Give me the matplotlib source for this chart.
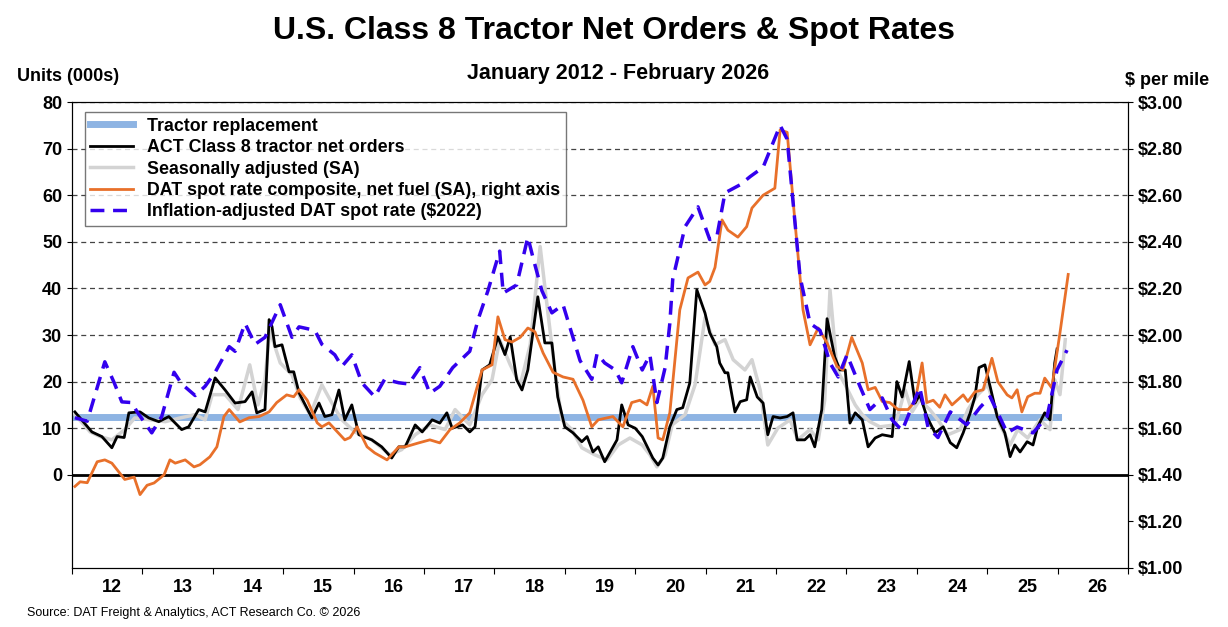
import matplotlib
matplotlib.use("Agg")
import matplotlib.pyplot as plt
import numpy as np

plt.rcParams["font.family"] = ["Liberation Sans", "DejaVu Sans"]

# months since Jan 2012
net_m = [0.5, 3.4, 5.1, 6.8, 7.7, 8.9, 9.7, 11.6, 13.1, 14.8, 16.5, 18.7, 19.9, 21.6, 22.7, 24.4, 26.1, 27.8,
         29.5, 30.7, 31.5, 32.9, 33.6, 34.1, 34.6, 35.8, 37.0, 37.8, 38.7, 40.9, 42.1, 43.1, 44.3, 45.5, 46.5,
         47.7, 48.9, 51.1, 52.8, 54.5, 55.7, 56.8, 58.5, 59.7, 61.4, 62.7, 63.9, 64.8, 66.6, 67.8, 68.7, 69.9,
         71.2, 72.6, 73.8, 74.7, 75.8, 76.7, 77.7, 79.4, 80.6, 81.8, 82.8, 84.0, 85.4, 86.9, 87.8, 88.8, 89.7,
         90.8, 92.9, 93.7, 94.8, 96.0, 97.2, 99.0, 99.9, 100.7, 101.9, 103.1, 104.1, 105.3, 106.5, 107.9, 108.7,
         109.9, 110.4, 111.3, 111.8, 113.0, 113.9, 115.0, 115.6, 116.8, 117.8, 118.6, 119.5, 120.7, 121.9, 122.9,
         123.6, 124.9, 125.8, 126.6, 127.8, 128.7, 130.0, 130.9, 131.8, 132.6, 133.5, 134.7, 135.7, 136.9, 138.1,
         139.8, 140.6, 141.5, 142.7, 143.7, 144.5, 145.7, 147.1, 148.5, 149.7, 150.8, 151.9, 153.1, 153.9, 154.6,
         155.6, 156.5, 157.7, 159.0, 159.9, 160.7, 161.6, 162.8, 163.8, 164.6, 165.8, 166.7, 167.5, 167.9]
net_v = [13.5, 9.2, 8.2, 5.8, 8.2, 8, 13.3, 13.5, 12.2, 11.4, 12.5, 9.7, 10.3, 14, 13.5, 20.8, 18.2, 15.4,
         15.7, 17.8, 13.3, 14, 33.3, 31.8, 27.5, 27.9, 22.1, 22.1, 17.6, 12.2, 15.4, 12.5, 12.9, 18.2, 11.8,
         15, 8.6, 7.5, 6, 3.6, 6, 6, 10.7, 9.2, 11.8, 11.1, 13.3, 10, 10.7, 9.2, 10.3, 22.5,
         23.6, 29.6, 25.8, 29.6, 20.4, 18.2, 22.5, 38.2, 28.3, 28.3, 16.7, 10.3, 9, 7.1, 8.2, 4.9, 6,
         2.8, 7.5, 15, 10.7, 10, 8.2, 3.6, 2.1, 3.6, 10.3, 14, 14.4, 19.7, 39.7, 34.7, 30.5,
         27.5, 24, 21.9, 21.9, 13.5, 15.7, 16.1, 21, 16.7, 15.4, 8.6, 12.5, 12.2, 12.5, 13.3,
         7.5, 7.5, 8.6, 6, 14, 33.5, 25.3, 22.5, 22.5, 11.1, 13.3, 11.8, 6, 7.9, 8.6,
         8.2, 20, 16.7, 24.3, 15.4, 17.2, 12.5, 9, 10.3, 6.9, 5.8, 9, 13.3, 16.7, 23,
         23.6, 18.9, 12.5, 9, 3.9, 6.4, 4.9, 7.1, 6.4, 10.3, 13.3, 11.8, 24, 27]

sa_m = [0.5, 3.1, 4.8, 6.8, 9.0, 10.7, 13.3, 15.9, 18.4, 21.0, 22.7, 23.9, 26.1, 28.3, 30.3, 31.7, 32.9, 33.7,
        35.5, 37.5, 38.9, 40.6, 42.6, 44.3, 46.0, 48.2, 51.1, 54.2, 56.2, 58.5, 61.0, 63.6, 65.3, 67.8, 69.9,
        71.6, 72.9, 74.7, 76.4, 78.1, 79.8, 81.1, 82.3, 83.5, 85.2, 86.9, 89.1, 91.2, 93.1, 95.1, 97.2, 98.5,
        99.7, 101.1, 102.3, 104.5, 106.2, 107.9, 109.6, 111.3, 112.7, 114.7, 115.9, 117.3, 118.6, 120.3, 122.4,
        123.7, 125.8, 127.2, 128.3, 129.2, 130.4, 131.8, 133.5, 134.7, 136.0, 137.7, 140.3, 142.0, 143.2, 144.5,
        146.2, 147.6, 149.3, 151.4, 152.7, 154.4, 156.1, 158.2, 159.9, 161.2, 162.9, 165.0, 166.7, 167.5, 168.4, 169.3]
sa_v = [12.9, 9.2, 8.2, 7.5, 9.7, 12.2, 11.8, 11.4, 12.2, 12.9, 11.8, 17.2, 17.2, 14, 23.6, 15, 20.4, 31,
        24, 21.5, 16.5, 12.9, 19.3, 15.4, 11.8, 9.2, 7.5, 4.3, 5.4, 8.6, 10.7, 9.7, 14, 10.7, 17.2,
        20.4, 29, 23.6, 19.3, 27.9, 49, 35, 22.5, 11.8, 9.7, 5.8, 4.3, 3.2, 6.4, 7.9, 6.4, 4.3,
        1.7, 4.3, 10.7, 12.9, 19.3, 33.7, 27.9, 29, 24.7, 22.5, 24.7, 18.2, 6.4, 10, 11.8,
        7.5, 9.7, 7.5, 16, 39.7, 22.5, 19.3, 15, 12.9, 11.4, 10.3, 10.7, 18.2, 13.5, 16.1,
        14, 11.8, 8.6, 9.7, 14, 17.2, 19.3, 10.7, 6.4, 9.7, 7.9, 11.8, 9.7, 20.4, 17.2, 29]

dat_m = [0.5, 1.4, 2.6, 4.3, 5.6, 6.8, 9.0, 10.6, 11.6, 12.8, 14.0, 15.7, 16.7, 17.6, 19.3, 20.8, 21.8, 23.5,
         24.7, 25.9, 26.8, 28.6, 30.2, 31.9, 33.6, 34.9, 36.6, 37.8, 38.7, 40.1, 41.8, 42.6, 43.8, 46.5, 47.4,
         48.6, 50.3, 51.6, 53.7, 55.7, 56.8, 59.1, 61.0, 62.7, 64.4, 66.1, 67.8, 69.9, 71.6, 72.6, 73.8, 75.0,
         76.4, 77.7, 78.9, 80.3, 82.0, 83.7, 85.4, 87.1, 88.6, 89.7, 92.2, 93.9, 95.4, 96.8, 98.0, 99.0, 99.9,
         100.7, 101.9, 103.6, 105.0, 106.7, 107.9, 108.7, 109.6, 110.8, 111.8, 113.5, 115.0, 115.9, 117.8,
         119.8, 120.7, 121.9, 123.2, 124.6, 125.8, 127.2, 128.7, 130.4, 131.4, 132.9, 134.7, 135.7, 136.9,
         138.1, 139.4, 140.8, 142.5, 143.7, 144.9, 145.7, 146.8, 147.9, 148.8, 150.0, 151.9, 152.7, 153.9,
         155.3, 156.8, 157.8, 159.4, 160.2, 161.1, 161.9, 162.9, 164.1, 165.0, 165.8, 167.0, 168.4, 169.8]
dat_v = [1.35, 1.37, 1.366, 1.456, 1.464, 1.45, 1.38, 1.39, 1.315, 1.355, 1.365, 1.40, 1.464, 1.45, 1.464,
         1.434, 1.443, 1.477, 1.52, 1.65, 1.68, 1.627, 1.645, 1.65, 1.67, 1.71, 1.743, 1.735, 1.765, 1.72,
         1.623, 1.606, 1.623, 1.55, 1.56, 1.606, 1.52, 1.494, 1.464, 1.52, 1.52, 1.537, 1.55, 1.537, 1.593,
         1.623, 1.666, 1.85, 1.872, 2.078, 1.98, 1.97, 1.99, 2.03, 2.014, 1.923, 1.84, 1.82, 1.81, 1.72,
         1.606, 1.636, 1.65, 1.606, 1.71, 1.72, 1.70, 1.78, 1.558, 1.55, 1.666, 2.108, 2.245, 2.27, 2.215,
         2.23, 2.29, 2.494, 2.45, 2.42, 2.465, 2.545, 2.60, 2.63, 2.88, 2.87, 2.494, 2.108, 1.958, 2.03,
         1.966, 1.865, 1.85, 1.99, 1.88, 1.765, 1.775, 1.715, 1.71, 1.68, 1.68, 1.715, 1.88, 1.71, 1.72,
         1.69, 1.743, 1.70, 1.743, 1.715, 1.756, 1.765, 1.90, 1.80, 1.743, 1.73, 1.765, 1.67, 1.735, 1.75,
         1.75, 1.815, 1.773, 2.01, 2.26]

infl_m = [0.5, 2.6, 5.6, 7.2, 8.5, 10.2, 11.1, 13.6, 15.3, 17.4, 18.7, 21.0, 22.7, 24.4, 26.8, 27.8, 29.5,
          31.2, 32.9, 35.5, 37.5, 38.7, 41.4, 42.6, 44.8, 46.0, 47.7, 49.4, 51.6, 53.3, 55.7, 57.4, 59.3, 61.0,
          62.7, 64.9, 67.8, 69.2, 70.9, 72.9, 73.5, 75.8, 77.7, 78.6, 80.1, 81.8, 83.7, 86.6, 88.6, 89.5, 90.8,
          92.6, 93.7, 95.6, 97.2, 98.5, 99.7, 101.1, 101.9, 102.4, 104.5, 106.7, 108.7, 109.9, 111.3, 113.9,
          115.6, 117.8, 120.7, 121.9, 124.1, 125.8, 127.5, 129.2, 130.6, 132.1, 134.3, 136.0, 138.1, 139.8,
          141.5, 144.5, 145.9, 147.6, 149.7, 152.5, 154.8, 156.5, 159.4, 161.1, 163.8, 166.2, 167.9, 169.6]
infl_v = [1.645, 1.63, 1.885, 1.795, 1.713, 1.71, 1.67, 1.58, 1.65, 1.84, 1.79, 1.74, 1.78, 1.84, 1.95,
          1.93, 2.05, 1.96, 1.99, 2.13, 1.99, 2.035, 2.02, 1.96, 1.915, 1.865, 1.915, 1.795, 1.735, 1.81,
          1.795, 1.79, 1.86, 1.75, 1.78, 1.86, 1.93, 2.065, 2.19, 2.36, 2.18, 2.215, 2.42, 2.33, 2.19, 2.095,
          2.13, 1.89, 1.81, 1.92, 1.88, 1.85, 1.795, 1.95, 1.85, 1.915, 1.71, 1.86, 2.05, 2.24, 2.465, 2.55,
          2.41, 2.42, 2.61, 2.645, 2.68, 2.72, 2.90, 2.84, 2.25, 2.05, 2.02, 1.88, 1.82, 1.915, 1.78, 1.68,
          1.73, 1.635, 1.59, 1.775, 1.605, 1.56, 1.67, 1.615, 1.69, 1.735, 1.58, 1.605, 1.58, 1.65, 1.85, 1.935]

replacement = 12.5
replacement_span = [0, 168]  # months

def yr(m):
    return 2012 + np.asarray(m) / 12.0

fig = plt.figure(figsize=(12.28, 6.27), dpi=100)
ax = fig.add_axes([0.0586, 0.0941, 0.86, 0.7432])
ax2 = ax.twinx()

ax.set_xlim(2012, 2027)
ax.set_ylim(-20, 80)
ax2.set_ylim(1.0, 3.0)
ax.set_yticks(range(0, 81, 10))
ax2.set_yticks(np.arange(1.0, 3.01, 0.2))
ax2.set_yticklabels([f"${v:.2f}" for v in np.arange(1.0, 3.01, 0.2)])
for y in range(10, 81, 10):
    ax.axhline(y, color="#444444", lw=0.9, ls=(0, (4, 3)), zorder=0)
ax.axhline(0, color="black", lw=2, zorder=1)

ax.set_xticks(range(2012, 2028))
ax.set_xticklabels([])
ax.set_xticks(np.arange(2012.57, 2027, 1), minor=True)
ax.set_xticklabels([f"{y % 100}" for y in range(2012, 2027)], minor=True)
ax.tick_params(axis="x", which="minor", length=0, labelsize=13, pad=8)
ax.tick_params(axis="x", which="major", length=4, direction="out")
ax.tick_params(axis="y", labelsize=13, direction="out")
ax2.tick_params(axis="y", labelsize=13, direction="out")
for t in ax.get_yticklabels() + ax2.get_yticklabels() + ax.get_xticklabels(minor=True):
    t.set_fontweight("bold")

h1, = ax.plot(yr(replacement_span), [replacement] * 2, color="#8EB4E3", lw=5, zorder=2,
              label="Tractor replacement")
h3, = ax.plot(yr(sa_m), sa_v, color="#D3D3D3", lw=2.5, zorder=3, label="Seasonally adjusted (SA)")
h2, = ax.plot(yr(net_m), net_v, color="black", lw=2, zorder=4, label="ACT Class 8 tractor net orders")
h4, = ax2.plot(yr(dat_m), dat_v, color="#E8702A", lw=2, zorder=5,
               label="DAT spot rate composite, net fuel (SA), right axis")
h5, = ax2.plot(yr(infl_m), infl_v, color="#3300EE", lw=2.5, ls=(0, (4, 2.5)), zorder=6,
               label="Inflation-adjusted DAT spot rate ($2022)")

leg = ax2.legend(handles=[h1, h2, h3, h4, h5], loc="upper left", bbox_to_anchor=(0.004, 0.997),
                 fontsize=12.8, frameon=True, fancybox=False, edgecolor="#555555",
                 handlelength=2.4, borderpad=0.3, labelspacing=0.25)
leg.get_frame().set_linewidth(1)
for t in leg.get_texts():
    t.set_fontweight("bold")

fig.text(0.5, 0.95, "U.S. Class 8 Tractor Net Orders & Spot Rates", ha="center", va="center",
         fontsize=23, fontweight="bold")
fig.text(0.503, 0.882, "January 2012 - February 2026", ha="center", va="center",
         fontsize=15.5, fontweight="bold")
fig.text(0.014, 0.878, "Units (000s)", ha="left", va="center", fontsize=13, fontweight="bold")
fig.text(0.985, 0.872, "$ per mile", ha="right", va="center", fontsize=13, fontweight="bold")
fig.text(0.022, 0.022, "Source: DAT Freight & Analytics, ACT Research Co. \u00a9 2026", ha="left",
         va="center", fontsize=9)

fig.savefig("out.png", dpi=100)
